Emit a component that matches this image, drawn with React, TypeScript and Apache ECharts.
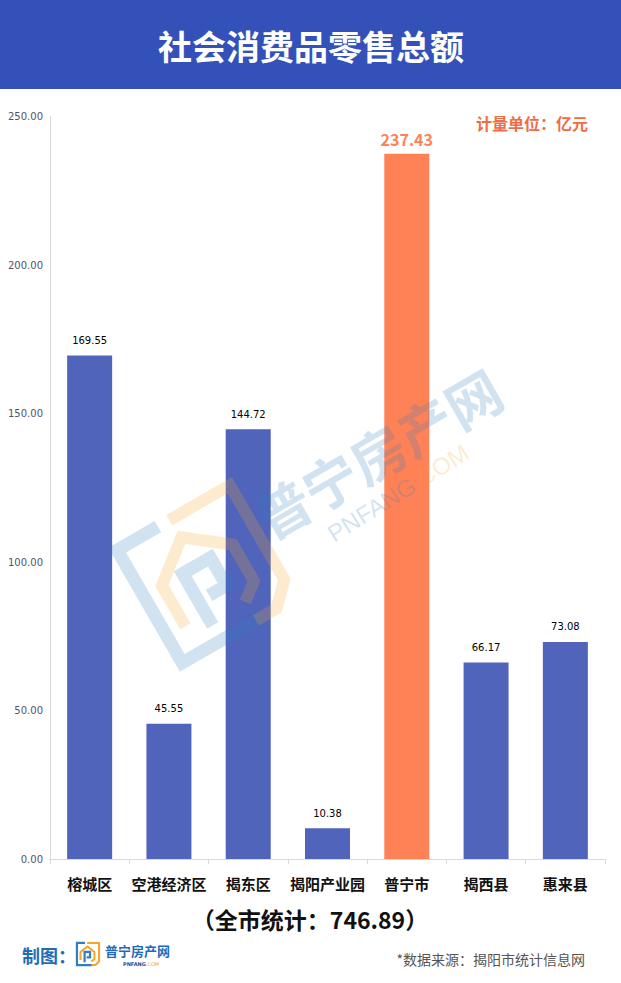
import React, { useEffect, useRef } from "react";
import * as echarts from "echarts";

const categories = ["榕城区", "空港经济区", "揭东区", "揭阳产业园", "普宁市", "揭西县", "惠来县"];
const values = [169.55, 45.55, 144.72, 10.38, 237.43, 66.17, 73.08];
const highlightCategory = "普宁市";
const yMin = 0;
const yMax = 250;
const yInterval = 50;
const titleText = "社会消费品零售总额";
const unitText = "计量单位：亿元";
const totalText = "（全市统计：746.89）";
const sourceText = "*数据来源：揭阳市统计信息网";
const makerLabel = "制图：";
const brandName = "普宁房产网";

const CJK = "'Noto Sans CJK SC', 'Noto Sans', sans-serif";
const BLUE = "#5064BB";
const ORANGE = "#FF8257";

function logo(x: number, y: number, scale: number, rotation: number, opacity: number, z: number) {
  const blue = "#2F7FC0";
  const orange = "#F5A623";
  const blueStyle = { stroke: blue, lineWidth: 13, fill: "none", opacity, lineJoin: "miter" };
  const orangeStyle = { stroke: orange, lineWidth: 12, fill: "none", opacity, lineJoin: "miter" };
  return {
    type: "group",
    x,
    y,
    rotation,
    scaleX: scale,
    scaleY: scale,
    z,
    silent: true,
    children: [
      { type: "polyline", shape: { points: [[-18, -65], [-65, -65], [-65, 65], [28, 65]] }, style: blueStyle, z },
      { type: "polyline", shape: { points: [[-5, -65], [65, -65], [65, 44], [44, 65], [20, 65]] }, style: orangeStyle, z },
      { type: "polyline", shape: { points: [[-44, 35], [-44, -12], [-3, -44], [38, -12], [38, 30], [20, 44]] }, style: orangeStyle, z },
      { type: "polyline", shape: { points: [[-20, 48], [-20, -12], [12, -12], [12, 20], [-8, 20]] }, style: blueStyle, z },
    ],
  };
}

export default function App() {
  const ref = useRef<HTMLDivElement>(null);
  useEffect(() => {
    if (!ref.current) return;
    const chart = echarts.init(ref.current, null, { renderer: "svg" });
    const data = values.map((v, i) => {
      if (categories[i] === highlightCategory) {
        return {
          value: v,
          itemStyle: { color: ORANGE },
          label: { fontSize: 16, fontWeight: "bold", color: ORANGE, fontFamily: CJK, distance: 7 },
        };
      }
      return { value: v };
    });
    chart.setOption({
      animation: false,
      backgroundColor: "#ffffff",
      grid: { left: 50, right: 16, top: 116.5, bottom: 124, containLabel: false },
      xAxis: {
        type: "category",
        data: categories,
        axisLine: { lineStyle: { color: "#d9d9d9", width: 1 } },
        axisTick: { show: true, length: 5, lineStyle: { color: "#d9d9d9" } },
        axisLabel: {
          interval: 0,
          margin: 17,
          color: "#111111",
          fontSize: 15,
          fontWeight: "bold",
          fontFamily: CJK,
        },
      },
      yAxis: {
        type: "value",
        min: yMin,
        max: yMax,
        interval: yInterval,
        axisLine: { show: true, lineStyle: { color: "#d9d9d9", width: 1 } },
        axisTick: { show: false },
        splitLine: { show: false },
        axisLabel: {
          margin: 7,
          color: "#4f5470",
          fontSize: 10,
          fontFamily: "'DejaVu Sans', sans-serif",
          formatter: (v: number) => v.toFixed(2),
        },
      },
      series: [
        {
          type: "bar",
          data,
          barWidth: 45,
          itemStyle: { color: BLUE },
          label: {
            show: true,
            position: "top",
            distance: 10,
            color: "#000000",
            fontSize: 10,
            fontFamily: "'DejaVu Sans', sans-serif",
            formatter: (p: any) => Number(p.value).toFixed(2),
          },
        },
      ],
      graphic: [
        { type: "rect", shape: { x: 0, y: 0, width: 621, height: 89 }, style: { fill: "#3451B9" }, z: 1 },
        {
          type: "text",
          x: 311,
          y: 45,
          style: {
            text: titleText,
            fill: "#ffffff",
            font: `bold 34px ${CJK}`,
            align: "center",
            verticalAlign: "middle",
          },
          z: 2,
        },
        {
          type: "text",
          x: 588,
          y: 123,
          style: {
            text: unitText,
            fill: "#F06C45",
            font: `bold 16px ${CJK}`,
            align: "right",
            verticalAlign: "middle",
          },
          z: 2,
        },
        {
          type: "text",
          x: 310,
          y: 919,
          style: {
            text: totalText,
            fill: "#111111",
            font: `bold 23px ${CJK}`,
            align: "center",
            verticalAlign: "middle",
          },
          z: 2,
        },
        {
          type: "text",
          x: 22,
          y: 955,
          style: {
            text: makerLabel,
            fill: "#1F6DB5",
            font: `bold 18px ${CJK}`,
            align: "left",
            verticalAlign: "middle",
          },
          z: 2,
        },
        logo(88, 954, 0.17, 0, 1, 5),
        {
          type: "text",
          x: 105,
          y: 950,
          style: {
            text: brandName,
            fill: "#1E6BB8",
            font: `bold 13px ${CJK}`,
            align: "left",
            verticalAlign: "middle",
          },
          z: 2,
        },
        {
          type: "text",
          x: 123,
          y: 964,
          style: {
            text: "{a|PNFANG}{b|.COM}",
            rich: {
              a: { fill: "#1E4F9A", fontSize: 5, fontWeight: "bold", fontFamily: "'DejaVu Sans', sans-serif" },
              b: { fill: "#F5A623", fontSize: 5, fontFamily: "'DejaVu Sans', sans-serif" },
            },
            align: "left",
            verticalAlign: "middle",
          },
          z: 2,
        },
        {
          type: "text",
          x: 585,
          y: 959,
          style: {
            text: sourceText,
            fill: "#555555",
            font: `14px ${CJK}`,
            align: "right",
            verticalAlign: "middle",
          },
          z: 2,
        },
        logo(206, 574, 1, 0.524, 0.22, 50),
        {
          type: "text",
          x: 377,
          y: 452,
          rotation: 0.524,
          silent: true,
          style: {
            text: brandName,
            fill: "#2F7FC0",
            opacity: 0.22,
            font: `bold 55px ${CJK}`,
            align: "center",
            verticalAlign: "middle",
          },
          z: 50,
        },
        {
          type: "text",
          x: 398,
          y: 493,
          rotation: 0.56,
          silent: true,
          style: {
            text: "{a|PNFANG}{b|.COM}",
            rich: {
              a: { fill: "#2F7FC0", fontSize: 24, fontFamily: "'Liberation Sans', sans-serif" },
              b: { fill: "#F5A623", fontSize: 24, fontFamily: "'Liberation Sans', sans-serif" },
            },
            opacity: 0.22,
            align: "center",
            verticalAlign: "middle",
          },
          z: 50,
        },
      ],
    });
    return () => chart.dispose();
  }, []);
  return (
    <div
      ref={ref}
      style={{ position: "fixed", left: 0, top: 0, width: 621, height: 983, background: "#fff" }}
    />
  );
}
